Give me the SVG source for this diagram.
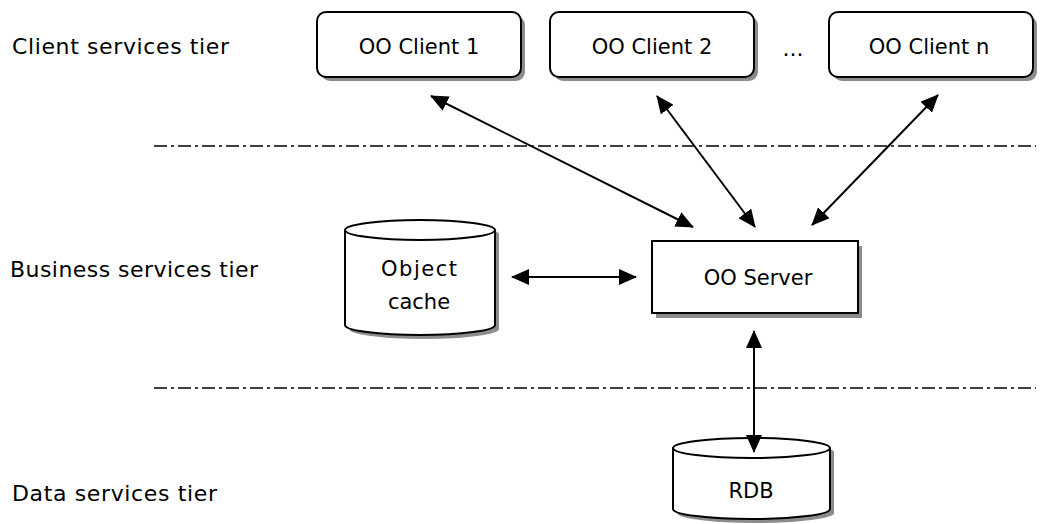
<svg xmlns="http://www.w3.org/2000/svg" width="1042" height="524" viewBox="0 0 1042 524">
  <defs>
    <style>
      .lbl { font-family: "DejaVu Sans", "Liberation Sans", sans-serif; font-size: 22px; fill: #000; }
      .node { font-size: 21px; }
      .mid { text-anchor: middle; }
      .box { fill: #fff; stroke: #000; stroke-width: 2; }
      .shadow { fill: #8c8c8c; stroke: none; }
      .tier { stroke: #000; stroke-width: 1.7; stroke-dasharray: 13 4 3 4; fill: none; }
      .link { stroke: #000; stroke-width: 2; fill: none; marker-start: url(#head); marker-end: url(#head); }
    </style>
    <marker id="head" viewBox="0 0 18 16" refX="17" refY="8" markerWidth="18" markerHeight="16" markerUnits="userSpaceOnUse" orient="auto-start-reverse">
      <path d="M0,0 L18,8 L0,16 z" fill="#000"/>
    </marker>
  </defs>

  <rect width="1042" height="524" fill="#fff"/>

  <!-- tier labels -->
  <g id="tier-labels">
    <text class="lbl" x="12" y="54" textLength="217" lengthAdjust="spacing">Client services tier</text>
    <text class="lbl" x="10" y="277" textLength="248" lengthAdjust="spacing">Business services tier</text>
    <text class="lbl" x="12" y="501" textLength="205" lengthAdjust="spacing">Data services tier</text>
  </g>

  <!-- tier separators -->
  <g id="separators">
    <line class="tier" x1="154" y1="146" x2="1036" y2="146"/>
    <line class="tier" x1="154" y1="388" x2="1036" y2="388"/>
  </g>

  <!-- client tier -->
  <g id="client1">
    <rect class="shadow" x="321" y="16" width="204" height="65" rx="9"/>
    <rect class="box" x="317" y="12" width="204" height="65" rx="9"/>
    <text class="lbl node mid" x="419" y="54">OO Client 1</text>
  </g>
  <g id="client2">
    <rect class="shadow" x="554" y="16" width="204" height="65" rx="9"/>
    <rect class="box" x="550" y="12" width="204" height="65" rx="9"/>
    <text class="lbl node mid" x="652" y="54">OO Client 2</text>
  </g>
  <g id="ellipsis">
    <text class="lbl mid" x="793" y="56" font-size="16">...</text>
  </g>
  <g id="clientn">
    <rect class="shadow" x="833" y="16" width="204" height="65" rx="9"/>
    <rect class="box" x="829" y="12" width="204" height="65" rx="9"/>
    <text class="lbl node mid" x="929" y="54">OO Client n</text>
  </g>

  <!-- business tier -->
  <g id="object-cache">
    <path class="shadow" d="M349,234 A75,10 0 0 1 499,234 L499,329 A75,10 0 0 1 349,329 z"/>
    <path class="box" d="M345,230 A75,10 0 0 1 495,230 L495,325 A75,10 0 0 1 345,325 z"/>
    <path d="M345,230 A75,10 0 0 0 495,230" fill="none" stroke="#000" stroke-width="2"/>
    <text class="lbl node mid" x="419" y="276" textLength="76" lengthAdjust="spacing">Object</text>
    <text class="lbl node mid" x="419" y="309">cache</text>
  </g>
  <g id="oo-server">
    <rect class="shadow" x="656" y="246" width="206" height="72"/>
    <rect class="box" x="652" y="241" width="206" height="72"/>
    <text class="lbl node mid" x="758" y="285">OO Server</text>
  </g>

  <!-- data tier -->
  <g id="rdb">
    <path class="shadow" d="M677,452 A78,10 0 0 1 834,452 L834,513 A78,10 0 0 1 677,513 z"/>
    <path class="box" d="M673,448 A78,10 0 0 1 830,448 L830,509 A78,10 0 0 1 673,509 z"/>
    <path d="M673,448 A78,10 0 0 0 830,448" fill="none" stroke="#000" stroke-width="2"/>
    <text class="lbl node mid" x="751" y="498">RDB</text>
  </g>

  <!-- connectors -->
  <g id="connectors">
    <line class="link" x1="431" y1="96" x2="693" y2="227"/>
    <line class="link" x1="657" y1="96" x2="755" y2="227"/>
    <line class="link" x1="938" y1="95" x2="812" y2="225"/>
    <line class="link" x1="512" y1="277" x2="636" y2="277"/>
    <line class="link" x1="754" y1="331" x2="754" y2="452"/>
  </g>
</svg>
